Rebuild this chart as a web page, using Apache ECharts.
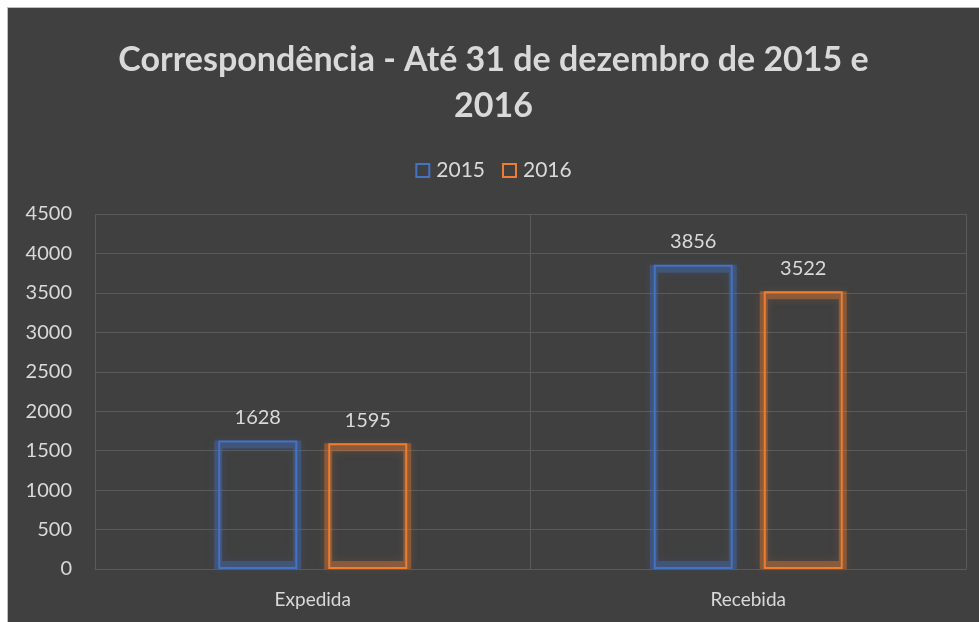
<!DOCTYPE html>
<html>
<head>
<meta charset="utf-8">
<script src="https://cdn.jsdelivr.net/npm/echarts@6/dist/echarts.min.js"></script>
<style>
html,body{margin:0;padding:0;background:#fff;width:979px;height:622px;overflow:hidden;}
#c{position:absolute;left:7px;top:7px;width:971px;height:614px;background:#404040;border-left:1px solid #bfbfbf;border-top:1px solid #bfbfbf;}
</style>
</head>
<body>
<div id="c"></div>
<script>
const titleText = 'Correspondência - Até 31 de dezembro de 2015 e\n2016';
const categories = ['Expedida', 'Recebida'];
const seriesNames = ['2015', '2016'];
const values2015 = [1628, 3856];
const values2016 = [1595, 3522];
const yMin = 0, yMax = 4500, yInterval = 500;

const FONT = 'Lato';
const TXT = '#d9d9d9';
const colors = ['#4472C4', '#ED7D31'];
const glows = ['rgba(68,114,196,0.38)', 'rgba(237,125,49,0.38)'];

const chart = echarts.init(document.getElementById('c'), null, {renderer: 'canvas'});

function mkSeries(name, data, i) {
  return {
    name: name,
    type: 'bar',
    data: data,
    xAxisIndex: 0,
    barWidth: 79,
    barGap: '39.24%',
    z: 3,
    itemStyle: {
      color: 'rgba(0,0,0,0)',
      borderColor: colors[i],
      borderWidth: 2
    },
    label: {
      show: true,
      position: 'top',
      distance: 13,
      color: TXT,
      fontFamily: FONT,
      fontSize: 20
    },
    emphasis: {disabled: true}
  };
}
function mkGlow(name, data, i) {
  return {
    name: name + ' glow',
    type: 'bar',
    data: data,
    xAxisIndex: 1,
    barWidth: 87,
    barGap: '26.44%',
    z: 2,
    silent: true,
    itemStyle: {
      color: 'rgba(0,0,0,0)',
      borderColor: glows[i],
      borderWidth: 8,
      shadowBlur: 8,
      shadowColor: glows[i]
    },
    label: {show: false},
    emphasis: {disabled: true}
  };
}

chart.setOption({
  backgroundColor: '#404040',
  animation: false,
  color: colors,
  title: {
    text: titleText,
    left: 'center',
    top: 24,
    padding: [5, 5, 5, 20],
    textStyle: {
      color: TXT,
      fontFamily: FONT,
      fontWeight: 'bold',
      fontSize: 34,
      lineHeight: 46
    }
  },
  legend: {
    top: 147,
    left: 'center',
    padding: [5, 5, 5, 28],
    itemWidth: 13,
    itemHeight: 13,
    itemGap: 17,
    icon: 'rect',
    data: seriesNames.map((n, i) => ({
      name: n,
      itemStyle: {color: 'rgba(0,0,0,0)', borderColor: colors[i], borderWidth: 2}
    })),
    textStyle: {color: TXT, fontFamily: FONT, fontSize: 21, padding: [0, 0, 0, 2]}
  },
  grid: {left: 87, right: 13, top: 206, bottom: 53, containLabel: false},
  xAxis: [{
    type: 'category',
    data: categories,
    axisLine: {show: true, lineStyle: {color: '#5a5a5a', width: 1}},
    axisTick: {show: false},
    splitLine: {show: true, lineStyle: {color: '#5a5a5a', width: 1}},
    axisLabel: {color: TXT, fontFamily: FONT, fontSize: 19, margin: 21}
  }, {
    type: 'category',
    data: categories,
    show: false,
    position: 'bottom'
  }],
  yAxis: {
    type: 'value',
    min: yMin,
    max: yMax,
    interval: yInterval,
    axisLine: {show: false},
    axisTick: {show: false},
    splitLine: {show: true, lineStyle: {color: '#5a5a5a', width: 1}},
    axisLabel: {color: TXT, fontFamily: FONT, fontSize: 20, margin: 23, formatter: v => String(v)}
  },
  series: [
    mkGlow(seriesNames[0], values2015, 0),
    mkGlow(seriesNames[1], values2016, 1),
    mkSeries(seriesNames[0], values2015, 0),
    mkSeries(seriesNames[1], values2016, 1)
  ]
});
</script>
</body>
</html>
